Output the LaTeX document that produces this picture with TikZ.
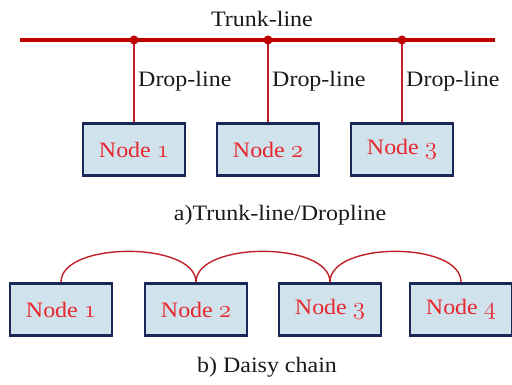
\documentclass[tikz,border=0pt]{standalone}
\usepackage{fontspec}
\setmainfont{Liberation Serif}[FakeStretch=1.09]
\newcommand{\osn}[1]{{\fontsize{24}{24}\usefont{OML}{lmm}{m}{it}#1}}
\definecolor{trunkred}{HTML}{C00000}
\definecolor{dropred}{HTML}{C0202A}
\definecolor{nodered}{HTML}{E8262E}
\definecolor{boxline}{HTML}{1B2857}
\definecolor{boxfill}{HTML}{D0E3EC}
\definecolor{txt}{HTML}{1A1A1A}
\tikzset{
  nodebox/.style={draw=boxline, line width=2.8pt, fill=boxfill, minimum width=102pt,
    minimum height=52pt, inner sep=0pt, text=nodered, font=\fontsize{22}{24}\selectfont},
  lbl/.style={text=txt, inner sep=0pt, font=\fontsize{22}{24}\selectfont},
  trunk/.style={draw=trunkred, line width=4pt},
  drop/.style={draw=dropred, line width=1.4pt},
  chain/.style={draw=dropred, line width=1.4pt},
  junction/.style={fill=trunkred, circle, inner sep=0pt, minimum size=9pt}
}
\begin{document}
\begin{tikzpicture}[x=1pt, y=-1pt]
\useasboundingbox (0,0) rectangle (512,385);

% a) trunk-line / drop-line topology
\coordinate (tl) at (20,40);
\coordinate (tr) at (495,40);
\draw[trunk] (tl) -- (tr);
\node[lbl] (trunklbl) at (262,19) {Trunk-line};

\node[nodebox] (t1) at (134,149.5) {Node \osn{1}};
\node[nodebox] (t2) at (268,149.5) {Node \osn{2}};
\node[nodebox] (t3) at (402,149.5) {Node \osn{3}};

\foreach \n in {1,2,3}{
  \coordinate (j\n) at (t\n.north |- tl);
  \draw[drop] (j\n) -- (t\n.north);
  \node[junction] at (j\n) {};
  \node[lbl, anchor=west] (d\n) at ([xshift=4pt] t\n.north |- 0,81) {Drop-line};
}

\node[lbl] (capa) at (280,215) {a)Trunk-line/Dropline};

% b) daisy chain topology
\node[nodebox] (b1) at (61,309.5) {Node \osn{1}};
\node[nodebox] (b2) at (196,309.5) {Node \osn{2}};
\node[nodebox] (b3) at (330,309.5) {Node \osn{3}};
\node[nodebox] (b4) at (461,309.5) {Node \osn{4}};

\draw[chain] (b1.north) .. controls +(0,-41) and +(0,-41) .. (b2.north);
\draw[chain] (b2.north) .. controls +(0,-41) and +(0,-41) .. (b3.north);
\draw[chain] (b3.north) .. controls +(0,-41) and +(0,-41) .. (b4.north);

\node[lbl] (capb) at (267,367) {b) Daisy chain};
\end{tikzpicture}
\end{document}
